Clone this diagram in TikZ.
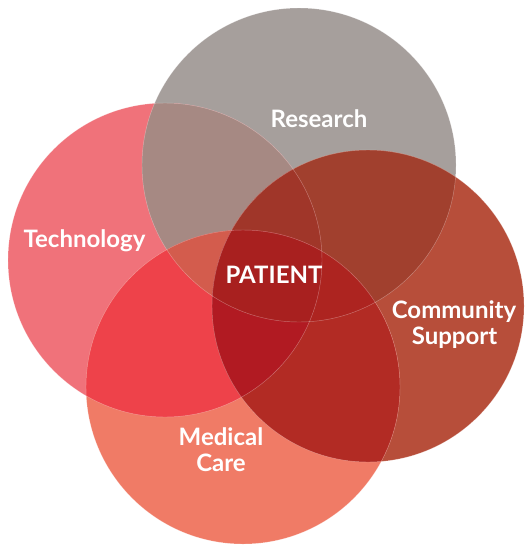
\documentclass[tikz,border=0pt]{standalone}
\usepackage{fontspec}
\setmainfont{Lato}
\begin{document}
\begin{tikzpicture}[x=1pt,y=-1pt,
  lbl/.style={text=white,font=\fontsize{24}{26}\selectfont\bfseries,anchor=base,inner sep=0pt,align=center},
  rim/.style={draw=white,draw opacity=.35,line width=.45pt}]
\definecolor{cR}{HTML}{A69F9C}
\definecolor{cT}{HTML}{F0727A}
\definecolor{cC}{HTML}{B74E3A}
\definecolor{cM}{HTML}{F07B66}
\definecolor{cRT}{HTML}{A68983}
\definecolor{cRC}{HTML}{A1402E}
\definecolor{cRM}{HTML}{A33A2B}
\definecolor{cTC}{HTML}{B82A2A}
\definecolor{cTM}{HTML}{EE424A}
\definecolor{cCM}{HTML}{B22B24}
\definecolor{cRTC}{HTML}{A03629}
\definecolor{cRTM}{HTML}{D35C4D}
\definecolor{cRCM}{HTML}{AD2420}
\definecolor{cTCM}{HTML}{B11A22}
\definecolor{cRTCM}{HTML}{A8201F}
\def\cR{(299,165) circle[radius=157pt]}
\def\cT{(165,260) circle[radius=157pt]}
\def\cC{(368,306) circle[radius=156pt]}
\def\cM{(243,387) circle[radius=157pt]}
\useasboundingbox (0,0) rectangle (525,546);
\clip (0,0) rectangle (525,546);
% singles
\fill[cR] \cR; \fill[cT] \cT; \fill[cC] \cC; \fill[cM] \cM;
% pairs
\begin{scope}\clip \cR; \fill[cRT] \cT; \end{scope}
\begin{scope}\clip \cR; \fill[cRC] \cC; \end{scope}
\begin{scope}\clip \cR; \fill[cRM] \cM; \end{scope}
\begin{scope}\clip \cT; \fill[cTC] \cC; \end{scope}
\begin{scope}\clip \cT; \fill[cTM] \cM; \end{scope}
\begin{scope}\clip \cC; \fill[cCM] \cM; \end{scope}
% triples
\begin{scope}\clip \cR; \clip \cT; \fill[cRTC] \cC; \end{scope}
\begin{scope}\clip \cR; \clip \cT; \fill[cRTM] \cM; \end{scope}
\begin{scope}\clip \cR; \clip \cC; \fill[cRCM] \cM; \end{scope}
\begin{scope}\clip \cT; \clip \cC; \fill[cTCM] \cM; \end{scope}
% all four
\begin{scope}\clip \cR; \clip \cT; \clip \cC; \fill[cRTCM] \cM; \end{scope}
% faint rims
\draw[rim] \cR; \draw[rim] \cT; \draw[rim] \cC; \draw[rim] \cM;
% labels
\node[lbl] (research) at (319,127) {Research};
\node[lbl] (technology) at (84.5,247) {Technology};
\node[lbl] (patient) at (274,283) {PATIENT};
\node[lbl] (community) at (454,318.6) {Community};
\node[lbl] (support) at (454.5,344.7) {Support};
\node[lbl] (medical) at (221,445) {Medical};
\node[lbl] (care) at (221,471) {Care};
\end{tikzpicture}
\end{document}
